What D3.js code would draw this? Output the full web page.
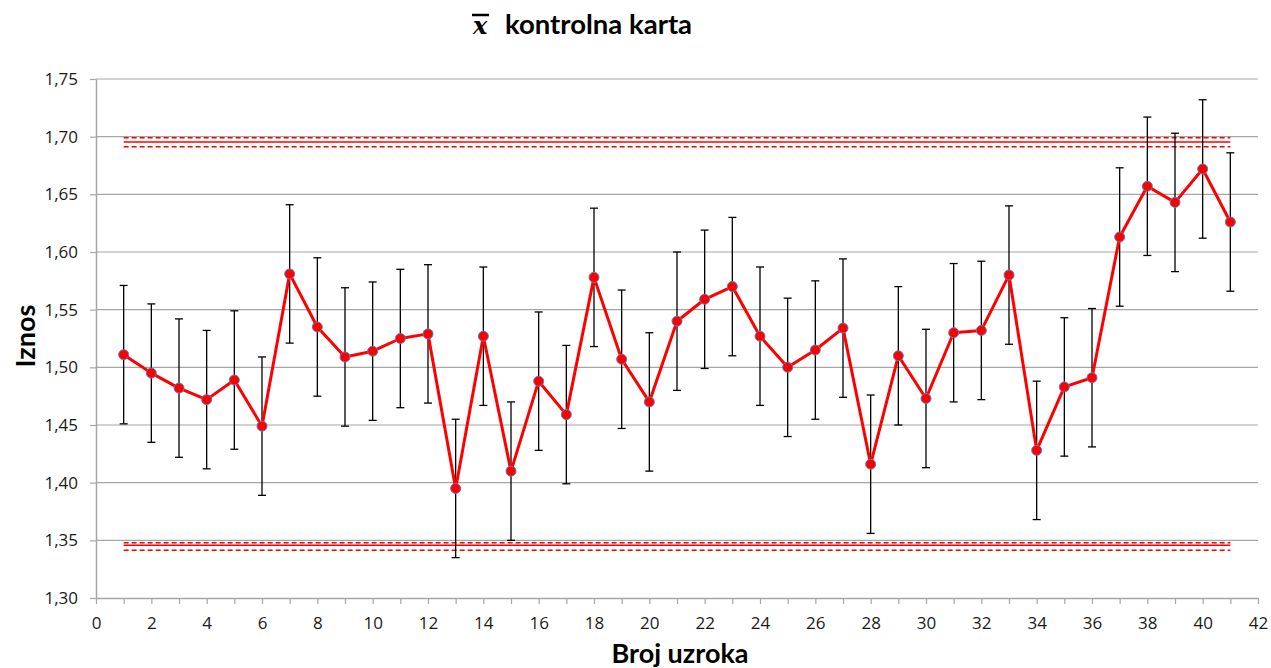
<!DOCTYPE html>
<html>
<head>
<meta charset="utf-8">
<script src="https://cdn.jsdelivr.net/npm/d3@7"></script>
<style>
  body { margin: 0; background: #fff; }
  text { font-family: Lato, "Open Sans", sans-serif; }
</style>
</head>
<body>
<svg width="1271" height="668"></svg>
<script>
// sample numbers and means
var samples = d3.range(1, 42);
var means = [1.511, 1.495, 1.482, 1.472, 1.489, 1.449, 1.581, 1.535, 1.509, 1.514,
             1.525, 1.529, 1.395, 1.527, 1.410, 1.488, 1.459, 1.578, 1.507, 1.470,
             1.540, 1.559, 1.570, 1.527, 1.500, 1.515, 1.534, 1.416, 1.510, 1.473,
             1.530, 1.532, 1.580, 1.428, 1.483, 1.491, 1.613, 1.657, 1.643, 1.672, 1.626];
var errorSize = 0.06;
// control limits (solid) with their dashed bands
var upperLimits = [1.699, 1.6953, 1.6912];
var lowerLimits = [1.3478, 1.3457, 1.3414];
var yTicks = [1.30, 1.35, 1.40, 1.45, 1.50, 1.55, 1.60, 1.65, 1.70, 1.75];

var svg = d3.select("svg");
var margin = {left: 96, right: 13, top: 79, bottom: 70};
var width = 1271 - margin.left - margin.right,
    height = 668 - margin.top - margin.bottom;

var x = d3.scaleLinear().domain([0, 42]).range([margin.left, margin.left + width]);
var y = d3.scaleLinear().domain([1.30, 1.75]).range([margin.top + height, margin.top]);

var g = svg.append("g");

// horizontal gridlines
g.selectAll("line.grid")
    .data(yTicks.slice(1))
    .enter().append("line")
    .attr("class", "grid")
    .attr("x1", x(0)).attr("x2", x(42))
    .attr("y1", function(d) { return y(d); })
    .attr("y2", function(d) { return y(d); })
    .attr("stroke", "#a6a6a6")
    .attr("stroke-width", 1.2);

// axes
var fmt = function(d) { return d3.format(".2f")(d).replace(".", ","); };
var yAxis = g.append("g")
    .attr("transform", "translate(" + x(0) + ",0)")
    .call(d3.axisLeft(y).tickValues(yTicks).tickFormat(fmt).tickSize(6).tickSizeOuter(0));
var xAxis = g.append("g")
    .attr("transform", "translate(0," + y(1.30) + ")")
    .call(d3.axisBottom(x).tickValues(d3.range(0, 43)).tickFormat(function(d) { return d % 2 == 0 ? d : ""; }).tickSize(6).tickSizeOuter(0));

[yAxis, xAxis].forEach(function(a) {
    a.select(".domain").attr("stroke", "#a6a6a6").attr("stroke-width", 1.5);
    a.selectAll(".tick line").attr("stroke", "#a6a6a6").attr("stroke-width", 1.2);
    a.selectAll(".tick text").attr("font-size", 17).attr("fill", "#1a1a1a")
        .style("font-family", "'Open Sans', sans-serif");
});
yAxis.selectAll(".tick text").attr("x", -18);
xAxis.selectAll(".tick text").attr("y", 19);

// control limits
function limitLines(vals) {
    vals.forEach(function(v, i) {
        g.append("line")
            .attr("x1", x(1)).attr("x2", x(41))
            .attr("y1", y(v)).attr("y2", y(v))
            .attr("stroke", "#ff0000")
            .attr("stroke-width", 1.5)
            .attr("stroke-dasharray", i == 1 ? null : "5,3");
    });
}
limitLines(upperLimits);
limitLines(lowerLimits);

// error bars
var bars = g.selectAll("g.err")
    .data(means)
    .enter().append("g")
    .attr("class", "err");
bars.append("line")
    .attr("x1", function(d, i) { return x(samples[i]); })
    .attr("x2", function(d, i) { return x(samples[i]); })
    .attr("y1", function(d) { return y(d + errorSize); })
    .attr("y2", function(d) { return y(d - errorSize); })
    .attr("stroke", "#000").attr("stroke-width", 1.3);
[1, -1].forEach(function(s) {
    bars.append("line")
        .attr("x1", function(d, i) { return x(samples[i]) - 4; })
        .attr("x2", function(d, i) { return x(samples[i]) + 4; })
        .attr("y1", function(d) { return y(d + s * errorSize); })
        .attr("y2", function(d) { return y(d + s * errorSize); })
        .attr("stroke", "#000").attr("stroke-width", 1.3);
});

// mean line
var line = d3.line()
    .x(function(d, i) { return x(samples[i]); })
    .y(function(d) { return y(d); });
g.append("path")
    .datum(means)
    .attr("d", line)
    .attr("fill", "none")
    .attr("stroke", "#ff0000")
    .attr("stroke-width", 3)
    .attr("stroke-linejoin", "round");

g.selectAll("circle")
    .data(means)
    .enter().append("circle")
    .attr("cx", function(d, i) { return x(samples[i]); })
    .attr("cy", function(d) { return y(d); })
    .attr("r", 5)
    .attr("fill", "#ff0000")
    .attr("stroke", "#5b7fb5")
    .attr("stroke-width", 1);

// title
svg.append("text")
    .attr("x", 505).attr("y", 34)
    .attr("font-size", 27.5).attr("font-weight", "bold")
    .attr("fill", "#000")
    .text("kontrolna karta");
svg.append("text")
    .attr("x", 473).attr("y", 34)
    .attr("font-size", 24).attr("font-style", "italic").attr("font-weight", "bold")
    .style("font-family", "'DejaVu Serif', serif")
    .text("x");
svg.append("line")
    .attr("x1", 472).attr("x2", 489)
    .attr("y1", 15).attr("y2", 15)
    .attr("stroke", "#000").attr("stroke-width", 2.5);

// axis titles
svg.append("text")
    .attr("transform", "translate(35,336) rotate(-90)")
    .attr("text-anchor", "middle")
    .attr("font-size", 27).attr("font-weight", "bold")
    .text("Iznos");
svg.append("text")
    .attr("x", 680).attr("y", 663)
    .attr("text-anchor", "middle")
    .attr("font-size", 27).attr("font-weight", "bold")
    .text("Broj uzroka");
</script>
</body>
</html>
